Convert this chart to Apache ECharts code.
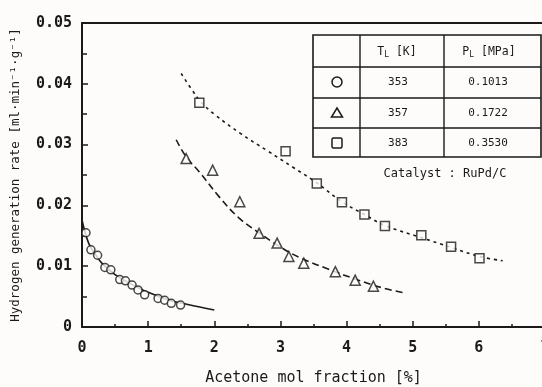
<!DOCTYPE html>
<html>
<head>
<meta charset="utf-8">
<script src="https://cdn.jsdelivr.net/npm/echarts@6/dist/echarts.min.js"></script>
<style>
  html, body { margin: 0; padding: 0; background: #fdfcfa; }
  #chart { width: 542px; height: 387px; }
</style>
</head>
<body>
<div id="chart"></div>
<script>
// Measured points, T_L = 353 K (circles)
const x353 = [0.06, 0.135, 0.236, 0.346, 0.436, 0.571, 0.657, 0.757, 0.847, 0.947, 1.15, 1.25, 1.35, 1.49];
const y353 = [0.0155, 0.0127, 0.0118, 0.0098, 0.0094, 0.0078, 0.0076, 0.0069, 0.0061, 0.0053, 0.0047, 0.0044, 0.0039, 0.0036];
// Fitted curve, 353 K
const fx353 = [0, 0.1, 0.2, 0.3, 0.5, 0.7, 1.0, 1.3, 1.6, 2.0];
const fy353 = [0.0176, 0.0138, 0.0120, 0.0105, 0.0086, 0.0073, 0.0057, 0.0045, 0.0037, 0.0028];

// Measured points, T_L = 357 K (triangles)
const x357 = [1.574, 1.975, 2.386, 2.677, 2.95, 3.128, 3.353, 3.83, 4.13, 4.406];
const y357 = [0.0277, 0.0258, 0.0206, 0.0154, 0.0138, 0.0116, 0.0105, 0.0091, 0.0077, 0.0067];
// Fitted curve, 357 K
const fx357 = [1.424, 1.574, 1.774, 2.075, 2.376, 2.677, 2.977, 3.278, 3.729, 4.18, 4.556, 4.883];
const fy357 = [0.0308, 0.0280, 0.0255, 0.0214, 0.0179, 0.0155, 0.0133, 0.0115, 0.0095, 0.0077, 0.0064, 0.0056];

// Measured points, T_L = 383 K (squares)
const x383 = [1.774, 3.078, 3.55, 3.93, 4.27, 4.58, 5.13, 5.58, 6.01];
const y383 = [0.0369, 0.0289, 0.0236, 0.0205, 0.0185, 0.0166, 0.0151, 0.0132, 0.0113];
// Fitted curve, 383 K
const fx383 = [1.5, 1.65, 1.8, 2.0, 2.4, 2.8, 3.2, 3.55, 3.93, 4.27, 4.58, 5.13, 5.58, 6.01, 6.36];
const fy383 = [0.0417, 0.0392, 0.0370, 0.0350, 0.0318, 0.0290, 0.0262, 0.0237, 0.0206, 0.0185, 0.0167, 0.0147, 0.0131, 0.0116, 0.0109];

// Condition table
const tempLabels = ['353', '357', '383'];
const pressLabels = ['0.1013', '0.1722', '0.3530'];
const tableSymbols = ['circle', 'triangle', 'square'];

const FONT = '"DejaVu Sans Mono", "Liberation Mono", monospace';
const INK = '#1a1a1a';
const PAPER = '#fdfcfa';

const zip = (xs, ys) => xs.map((x, i) => [x, ys[i]]);

function markerSeries(name, symbol, size, xs, ys) {
  return {
    name, type: 'scatter', symbol, symbolSize: size, z: 5,
    itemStyle: { color: PAPER, borderColor: INK, borderWidth: 1.5 },
    data: zip(xs, ys)
  };
}
function curveSeries(name, dash, xs, ys) {
  return {
    name, type: 'line', smooth: 0.4, showSymbol: false, z: 3,
    lineStyle: { color: INK, width: 1.6, type: dash },
    data: zip(xs, ys)
  };
}

// Condition table drawn as graphic elements
const tbl = { x0: 313, x1: 541, c1: 360, c2: 444, y0: 35, rows: [67, 98, 128], y1: 157 };
const rowMid = [82, 113, 143];
const tableGraphics = [];
tableGraphics.push({ type: 'rect', shape: { x: tbl.x0, y: tbl.y0, width: tbl.x1 - tbl.x0, height: tbl.y1 - tbl.y0 },
  style: { fill: PAPER, stroke: INK, lineWidth: 1.6 }, z: 10 });
[tbl.c1, tbl.c2].forEach(cx => tableGraphics.push({ type: 'line', shape: { x1: cx, y1: tbl.y0, x2: cx, y2: tbl.y1 },
  style: { stroke: INK, lineWidth: 1.4 }, z: 11 }));
tbl.rows.forEach(ry => tableGraphics.push({ type: 'line', shape: { x1: tbl.x0, y1: ry, x2: tbl.x1, y2: ry },
  style: { stroke: INK, lineWidth: 1.4 }, z: 11 }));
const headRich = { a: { fontFamily: FONT, fontSize: 11.5, fill: INK }, s: { fontFamily: FONT, fontSize: 8, fill: INK, padding: [5, 0, 0, 0] } };
tableGraphics.push({ type: 'text', x: 397, y: 52, z: 12, style: {
  text: '{a|T}{s|L}{a| [K]}', align: 'center', verticalAlign: 'middle', rich: headRich } });
tableGraphics.push({ type: 'text', x: 489, y: 52, z: 12, style: {
  text: '{a|P}{s|L}{a| [MPa]}', align: 'center', verticalAlign: 'middle', rich: headRich } });
tableSymbols.forEach((sym, i) => {
  const cy = rowMid[i], cx = 337;
  let g;
  if (sym === 'circle') g = { type: 'circle', shape: { cx, cy, r: 5 } };
  else if (sym === 'triangle') g = { type: 'polygon', shape: { points: [[cx, cy - 5], [cx + 5.5, cy + 4], [cx - 5.5, cy + 4]] } };
  else g = { type: 'rect', shape: { x: cx - 5, y: cy - 5, width: 10, height: 10, r: 1.5 } };
  g.style = { fill: 'none', stroke: INK, lineWidth: 1.5 };
  g.z = 12;
  tableGraphics.push(g);
  tableGraphics.push({ type: 'text', x: 398, y: cy, z: 12, style: { text: tempLabels[i], align: 'center', verticalAlign: 'middle', fontFamily: FONT, fontSize: 11, fill: INK } });
  tableGraphics.push({ type: 'text', x: 488, y: cy, z: 12, style: { text: pressLabels[i], align: 'center', verticalAlign: 'middle', fontFamily: FONT, fontSize: 11, fill: INK } });
});
tableGraphics.push({ type: 'text', x: 445, y: 174, z: 12, style: { text: 'Catalyst : RuPd/C', align: 'center', verticalAlign: 'middle', fontFamily: FONT, fontSize: 12, fill: INK } });

const chart = echarts.init(document.getElementById('chart'), null, { renderer: 'canvas' });
chart.setOption({
  backgroundColor: PAPER,
  animation: false,
  grid: { left: 82, top: 23, right: -3, bottom: 60, outerBoundsMode: 'none', containLabel: false },
  xAxis: [{
    type: 'value', min: 0, max: 7, interval: 1,
    name: 'Acetone mol fraction [%]', nameLocation: 'middle', nameGap: 44,
    nameTextStyle: { fontFamily: FONT, fontSize: 15, color: INK },
    axisLine: { show: true, onZero: false, lineStyle: { color: INK, width: 2 } },
    axisTick: { show: true, inside: true, length: 6, lineStyle: { color: INK, width: 1.5 } },
    minorTick: { show: true, splitNumber: 2, length: 3, lineStyle: { color: INK, width: 1.5 } },
    axisLabel: { margin: 14, fontFamily: FONT, fontSize: 15, fontWeight: 'bold', color: INK, hideOverlap: false },
    splitLine: { show: false }
  }, {
    type: 'value', position: 'top', min: 0, max: 7,
    axisLine: { show: true, onZero: false, lineStyle: { color: INK, width: 2 } },
    axisTick: { show: false }, axisLabel: { show: false }, splitLine: { show: false }
  }],
  yAxis: {
    type: 'value', min: 0, max: 0.05, interval: 0.01,
    name: 'Hydrogen generation rate [ml·min⁻¹·g⁻¹]', nameLocation: 'middle', nameGap: 60,
    nameTextStyle: { fontFamily: FONT, fontSize: 12.5, color: INK },
    axisLine: { show: true, onZero: false, lineStyle: { color: INK, width: 2 } },
    axisTick: { show: true, inside: true, length: 6, lineStyle: { color: INK, width: 1.5 } },
    minorTick: { show: true, splitNumber: 2, length: 5, lineStyle: { color: INK, width: 1.5 } },
    axisLabel: { margin: 10, fontFamily: FONT, fontSize: 15, fontWeight: 'bold', color: INK,
      formatter: v => (v === 0 ? '0' : v.toFixed(2)) },
    splitLine: { show: false }
  },
  series: [
    curveSeries('353 K fit', 'solid', fx353, fy353),
    curveSeries('357 K fit', [7, 4], fx357, fy357),
    curveSeries('383 K fit', [3, 4], fx383, fy383),
    markerSeries('353 K', 'circle', 8, x353, y353),
    markerSeries('357 K', 'triangle', 10, x357, y357),
    markerSeries('383 K', 'rect', 9, x383, y383)
  ],
  graphic: tableGraphics
});
</script>
</body>
</html>
